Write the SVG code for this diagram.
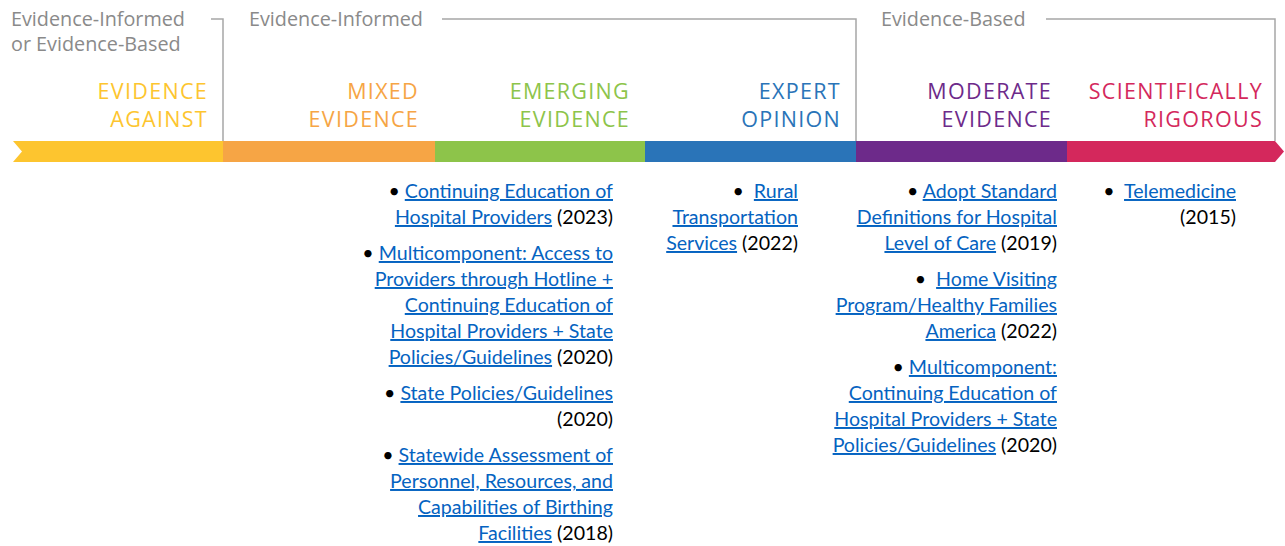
<svg xmlns="http://www.w3.org/2000/svg" width="1285" height="546" viewBox="0 0 1285 546">
<style>
.grp{font-family:"Open Sans","Noto Sans",sans-serif;font-size:19.8px;fill:#8a8a8a}
.cat{font-family:"Open Sans","Noto Sans",sans-serif;font-size:21.5px;text-anchor:end;letter-spacing:1.3px}
.it{font-family:Lato,"Noto Sans",sans-serif;font-size:19.6px;text-anchor:end;fill:#000}
.lk{fill:#0563C1;text-decoration:underline}
.br{fill:none;stroke:#a6a6a6;stroke-width:1.5}
</style>
<rect width="1285" height="546" fill="#fff"/>
<g id="brackets">
<path class="br" d="M211,19 H223 V141"/>
<path class="br" d="M442,19 H856 V141"/>
<path class="br" d="M1046,19 H1275 V141"/>
</g>
<g id="group-labels">
<text class="grp" x="11" y="26">Evidence-Informed</text>
<text class="grp" x="11" y="51">or Evidence-Based</text>
<text class="grp" x="249" y="26">Evidence-Informed</text>
<text class="grp" x="881" y="26">Evidence-Based</text>
</g>
<g id="bar">
<polygon points="13,141 224,141 224,162 13,162 22,151.5" fill="#FDC52F"/>
<rect x="223" y="141" width="213" height="21" fill="#F6A545"/>
<rect x="435" y="141" width="211" height="21" fill="#8DC44A"/>
<rect x="645" y="141" width="212" height="21" fill="#2A74B8"/>
<rect x="856" y="141" width="212" height="21" fill="#6D2A8A"/>
<polygon points="1067,141 1275,141 1284,151.5 1275,162 1067,162" fill="#D4285C"/>
</g>
<g id="evidence-against">
<text class="cat" fill="#FDC52F"><tspan x="208" y="99">EVIDENCE</tspan><tspan x="208" y="127">AGAINST</tspan></text>
</g>
<g id="mixed-evidence">
<text class="cat" fill="#F6A545"><tspan x="419" y="99">MIXED</tspan><tspan x="419" y="127">EVIDENCE</tspan></text>
<text class="it" x="613" y="198">• <tspan class="lk">Continuing Education of</tspan></text>
<text class="it" x="613" y="224"><tspan class="lk">Hospital Providers</tspan> (2023)</text>
<text class="it" x="613" y="260">• <tspan class="lk">Multicomponent: Access to</tspan></text>
<text class="it" x="613" y="286"><tspan class="lk">Providers through Hotline +</tspan></text>
<text class="it" x="613" y="312"><tspan class="lk">Continuing Education of</tspan></text>
<text class="it" x="613" y="338"><tspan class="lk">Hospital Providers + State</tspan></text>
<text class="it" x="613" y="364"><tspan class="lk">Policies/Guidelines</tspan> (2020)</text>
<text class="it" x="613" y="400">• <tspan class="lk">State Policies/Guidelines</tspan></text>
<text class="it" x="613" y="426">(2020)</text>
<text class="it" x="613" y="462">• <tspan class="lk">Statewide Assessment of</tspan></text>
<text class="it" x="613" y="488"><tspan class="lk">Personnel, Resources, and</tspan></text>
<text class="it" x="613" y="514"><tspan class="lk">Capabilities of Birthing</tspan></text>
<text class="it" x="613" y="540"><tspan class="lk">Facilities</tspan> (2018)</text>
</g>
<g id="emerging-evidence">
<text class="cat" fill="#8DC44A"><tspan x="630" y="99">EMERGING</tspan><tspan x="630" y="127">EVIDENCE</tspan></text>
</g>
<g id="expert-opinion">
<text class="cat" fill="#2A74B8"><tspan x="841" y="99">EXPERT</tspan><tspan x="841" y="127">OPINION</tspan></text>
<text class="it" x="798" y="198" xml:space="preserve">•  <tspan class="lk">Rural</tspan></text>
<text class="it" x="798" y="224"><tspan class="lk">Transportation</tspan></text>
<text class="it" x="798" y="250"><tspan class="lk">Services</tspan> (2022)</text>
</g>
<g id="moderate-evidence">
<text class="cat" fill="#6D2A8A"><tspan x="1052" y="99">MODERATE</tspan><tspan x="1052" y="127">EVIDENCE</tspan></text>
<text class="it" x="1057" y="198">• <tspan class="lk">Adopt Standard</tspan></text>
<text class="it" x="1057" y="224"><tspan class="lk">Definitions for Hospital</tspan></text>
<text class="it" x="1057" y="250"><tspan class="lk">Level of Care</tspan> (2019)</text>
<text class="it" x="1057" y="286" xml:space="preserve">•  <tspan class="lk">Home Visiting</tspan></text>
<text class="it" x="1057" y="312"><tspan class="lk">Program/Healthy Families</tspan></text>
<text class="it" x="1057" y="338"><tspan class="lk">America</tspan> (2022)</text>
<text class="it" x="1057" y="374">• <tspan class="lk">Multicomponent:</tspan></text>
<text class="it" x="1057" y="400"><tspan class="lk">Continuing Education of</tspan></text>
<text class="it" x="1057" y="426"><tspan class="lk">Hospital Providers + State</tspan></text>
<text class="it" x="1057" y="452"><tspan class="lk">Policies/Guidelines</tspan> (2020)</text>
</g>
<g id="scientifically-rigorous">
<text class="cat" fill="#D4285C"><tspan x="1263" y="99">SCIENTIFICALLY</tspan><tspan x="1263" y="127">RIGOROUS</tspan></text>
<text class="it" x="1236" y="198" xml:space="preserve">•  <tspan class="lk">Telemedicine</tspan></text>
<text class="it" x="1236" y="224">(2015)</text>
</g>
</svg>
